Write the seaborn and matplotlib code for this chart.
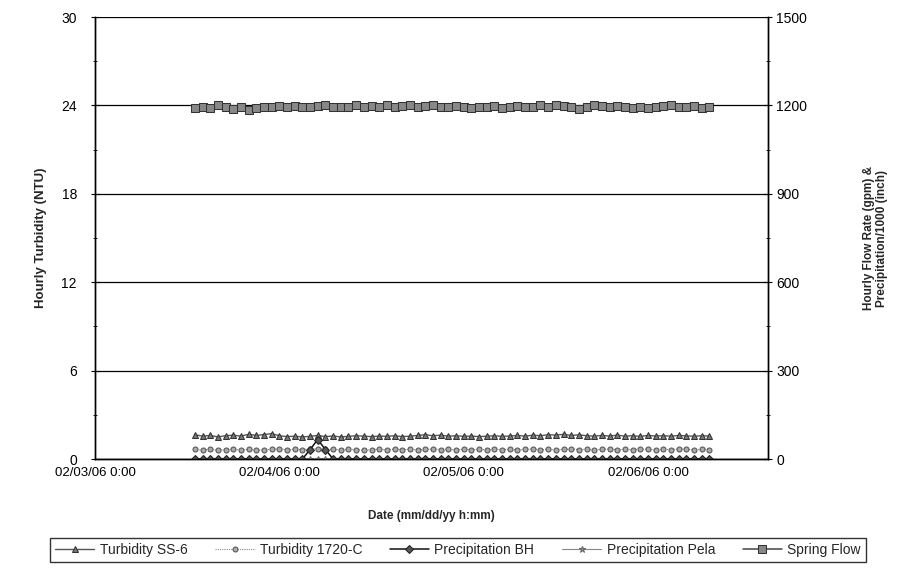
import matplotlib
matplotlib.use("Agg")
import matplotlib.pyplot as plt
import matplotlib.dates as mdates
from matplotlib.ticker import MultipleLocator
import numpy as np
import pandas as pd
import seaborn as sns

# Hourly readings, 02/03/06 13:00 through 02/06/06 08:00
start_time = "2006-02-03 13:00"

spring_flow = [
    1192, 1196, 1190, 1200, 1194, 1188, 1196, 1186, 1192, 1194, 1196, 1198,
    1194, 1198, 1196, 1194, 1198, 1202, 1196, 1194, 1196, 1200, 1194, 1198,
    1196, 1200, 1194, 1198, 1202, 1196, 1198, 1200, 1196, 1194, 1198, 1196,
    1192, 1196, 1194, 1198, 1192, 1196, 1198, 1194, 1196, 1200, 1196, 1202,
    1198, 1194, 1188, 1196, 1200, 1198, 1194, 1198, 1196, 1192, 1194, 1190,
    1196, 1198, 1202, 1196, 1194, 1198, 1192, 1196,
]

turbidity_ss6 = [
    1.65, 1.55, 1.60, 1.50, 1.58, 1.62, 1.55, 1.68, 1.60, 1.66, 1.72, 1.58,
    1.52, 1.55, 1.50, 1.54, 1.60, 1.52, 1.56, 1.50, 1.54, 1.58, 1.55, 1.52,
    1.56, 1.54, 1.58, 1.52, 1.55, 1.60, 1.65, 1.58, 1.62, 1.55, 1.58, 1.54,
    1.56, 1.52, 1.55, 1.58, 1.54, 1.56, 1.60, 1.55, 1.62, 1.58, 1.65, 1.62,
    1.68, 1.60, 1.64, 1.58, 1.55, 1.60, 1.56, 1.62, 1.55, 1.58, 1.54, 1.60,
    1.56, 1.58, 1.55, 1.60, 1.57, 1.55, 1.58, 1.56,
]

turbidity_1720c = [
    0.65, 0.62, 0.66, 0.60, 0.64, 0.66, 0.62, 0.65, 0.60, 0.63, 0.66, 0.70,
    0.62, 0.66, 0.64, 0.68, 0.70, 0.65, 0.66, 0.62, 0.66, 0.63, 0.60, 0.64,
    0.66, 0.62, 0.68, 0.64, 0.66, 0.62, 0.65, 0.68, 0.64, 0.66, 0.62, 0.65,
    0.63, 0.66, 0.62, 0.68, 0.64, 0.66, 0.62, 0.65, 0.68, 0.63, 0.66, 0.62,
    0.65, 0.68, 0.64, 0.66, 0.62, 0.65, 0.67, 0.63, 0.66, 0.64, 0.68, 0.65,
    0.62, 0.66, 0.64, 0.68, 0.65, 0.63, 0.66, 0.64,
]

precip_bh = [
    0, 0, 0, 0, 0, 0, 0, 0, 0, 0, 0, 0,
    0, 0, 0, 32, 66, 32, 0, 0, 0, 0, 0, 0,
    0, 0, 0, 0, 0, 0, 0, 0, 0, 0, 0, 0,
    0, 0, 0, 0, 0, 0, 0, 0, 0, 0, 0, 0,
    0, 0, 0, 0, 0, 0, 0, 0, 0, 0, 0, 0,
    0, 0, 0, 0, 0, 0, 0, 0,
]

precip_pela = [
    0, 0, 0, 0, 0, 0, 0, 0, 0, 0, 0, 0,
    0, 0, 0, 0, 0, 0, 0, 0, 0, 0, 0, 0,
    0, 0, 0, 0, 0, 0, 0, 0, 0, 0, 0, 0,
    0, 0, 0, 0, 0, 0, 0, 0, 0, 0, 0, 0,
    0, 0, 0, 0, 0, 0, 0, 0, 0, 0, 0, 0,
    0, 0, 0, 0, 0, 0, 0, 0,
]

left_ticks = [0, 6, 12, 18, 24, 30]
right_ticks = [0, 300, 600, 900, 1200, 1500]
day_ticks = ["2006-02-03", "2006-02-04", "2006-02-05", "2006-02-06"]

times = pd.date_range(start_time, periods=len(spring_flow), freq="h")
df = pd.DataFrame({
    "time": times,
    "Turbidity SS-6": turbidity_ss6,
    "Turbidity 1720-C": turbidity_1720c,
    "Precipitation BH": precip_bh,
    "Precipitation Pela": precip_pela,
    "Spring Flow": spring_flow,
})

sns.set_style("white")
plt.rcParams["font.family"] = ["Liberation Sans", "DejaVu Sans"]

fig = plt.figure(figsize=(9.24, 5.75), dpi=100)
ax = fig.add_axes([0.1028, 0.2017, 0.7282, 0.7687])
ax2 = ax.twinx()

# Turbidity on the left axis
sns.lineplot(data=df, x="time", y="Turbidity SS-6", ax=ax, color="#555555",
             linewidth=1.0, marker="^", markersize=5, markeredgecolor="#333333",
             markerfacecolor="#777777", label="Turbidity SS-6", legend=False)
sns.lineplot(data=df, x="time", y="Turbidity 1720-C", ax=ax, color="#888888",
             linewidth=0.8, linestyle=(0, (1, 1)), marker="o", markersize=3.6,
             markeredgecolor="#555555", markerfacecolor="#aaaaaa",
             label="Turbidity 1720-C", legend=False)

# Flow and precipitation on the right axis
sns.lineplot(data=df, x="time", y="Precipitation Pela", ax=ax2, color="#888888",
             linewidth=0.8, marker="*", markersize=5, markeredgecolor="#666666",
             markerfacecolor="#999999", label="Precipitation Pela", legend=False)
sns.lineplot(data=df, x="time", y="Precipitation BH", ax=ax2, color="#111111",
             linewidth=1.1, marker="D", markersize=3.8, markeredgecolor="#222222",
             markerfacecolor="#555555", label="Precipitation BH", legend=False)
sns.lineplot(data=df, x="time", y="Spring Flow", ax=ax2, color="#444444",
             linewidth=1.1, marker="s", markersize=5.8, markeredgecolor="#333333",
             markerfacecolor="#888888", label="Spring Flow", legend=False)

x0 = pd.Timestamp("2006-02-03 00:00")
x1 = x0 + pd.Timedelta(hours=87.6)
ax.set_xlim(x0, x1)
ax.set_ylim(0, 30)
ax2.set_ylim(0, 1500)

ax.set_yticks(left_ticks)
ax.yaxis.set_minor_locator(MultipleLocator(3))
ax2.set_yticks(right_ticks)
ax2.yaxis.set_minor_locator(MultipleLocator(150))
ax.set_xticks(pd.to_datetime(day_ticks))
ax.xaxis.set_major_formatter(mdates.DateFormatter("%m/%d/%y 0:00"))

ax.grid(axis="y", color="black", linewidth=0.9)
ax.set_axisbelow(True)
ax2.grid(False)

for a in (ax, ax2):
    for side in ("left", "right", "bottom"):
        a.spines[side].set_color("black")
        a.spines[side].set_linewidth(1.0)
    a.spines["top"].set_visible(False)
    a.tick_params(axis="y", which="major", direction="inout", length=6,
                  width=0.8, colors="black", labelsize=10)
    a.tick_params(axis="y", which="minor", direction="inout", length=3,
                  width=0.6, colors="black")
ax.tick_params(axis="y", which="major", pad=10)
ax2.tick_params(axis="y", which="major", pad=3)
ax.tick_params(axis="x", direction="out", length=0, labelsize=9.5, pad=6,
               colors="black")

ax.set_xlabel("Date (mm/dd/yy h:mm)", fontsize=8.5, fontweight="bold", labelpad=22)
ax.set_ylabel("Hourly Turbidity (NTU)", fontsize=9.5, fontweight="bold", labelpad=10)
ax2.set_ylabel("Hourly Flow Rate (gpm) &\nPrecipitation/1000 (inch)", fontsize=8.5,
               fontweight="bold", labelpad=40, rotation=90, linespacing=1.1)

order = ["Turbidity SS-6", "Turbidity 1720-C", "Precipitation BH",
         "Precipitation Pela", "Spring Flow"]
handles = {}
for a in (ax, ax2):
    for h, l in zip(*a.get_legend_handles_labels()):
        handles[l] = h
leg = fig.legend([handles[k] for k in order], order, loc="center",
                 bbox_to_anchor=(0.4957, 0.0435), ncol=5, frameon=True,
                 fancybox=False, edgecolor="black", fontsize=10,
                 columnspacing=2.0, handlelength=2.8, handletextpad=0.4,
                 borderpad=0.35)
leg.get_frame().set_linewidth(1.0)

fig.savefig("out.png", dpi=100, facecolor="white")
